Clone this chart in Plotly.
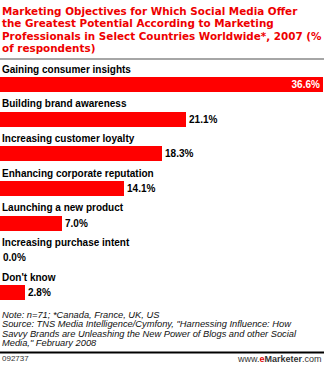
import plotly.graph_objects as go

categories = ["Gaining consumer insights", "Building brand awareness", "Increasing customer loyalty",
              "Enhancing corporate reputation", "Launching a new product", "Increasing purchase intent",
              "Don't know"]
values = [36.6, 21.1, 18.3, 14.1, 7.0, 0.0, 2.8]
labels = ["%.1f%%" % v for v in values]

title_lines = ["Marketing Objectives for Which Social Media Offer",
               "the Greatest Potential According to Marketing",
               "Professionals in Select Countries Worldwide*, 2007 (%",
               "of respondents)"]
footer_lines = ["Note: n=71; *Canada, France, UK, US",
                "Source: TNS Media Intelligence/Cymfony, \"Harnessing Influence: How",
                "Savvy Brands are Unleashing the New Power of Blogs and other Social",
                "Media,\" February 2008"]

W, H = 324, 365
T, B = 60, 55
PH = H - T - B
FONT = "Liberation Sans, Arial, sans-serif"
TFONT = "DejaVu Sans, Verdana, sans-serif"

def py(p):
    return (H - B - p) / PH

pos = list(range(len(categories)))
textpos = ["inside" if i == 0 else "outside" for i in pos]

fig = go.Figure(go.Bar(
    x=values, y=pos, orientation="h", width=0.433,
    marker=dict(color="#FF0000", line=dict(width=0)),
    text=labels, textposition=textpos, insidetextanchor="end",
    insidetextfont=dict(color="white", size=10, family=FONT),
    outsidetextfont=dict(color="black", size=10, family=FONT),
    texttemplate="<b>%{text}</b>", constraintext="none", cliponaxis=False,
    hoverinfo="skip",
))

ann = []
for i, c in enumerate(categories):
    ann.append(dict(x=0, xref="paper", y=i, yref="y", yshift=15.5, text="<b>%s</b>" % c,
                    showarrow=False, xanchor="left", yanchor="middle",
                    font=dict(size=10, color="black", family=FONT)))
for k, t in enumerate(title_lines):
    ann.append(dict(x=0, xref="paper", y=py(11 + 12.3 * k), yref="paper", text="<b>%s</b>" % t,
                    showarrow=False, xanchor="left", yanchor="middle",
                    font=dict(size=10.4, color="#EE0000", family=TFONT)))
for k, t in enumerate(footer_lines):
    ann.append(dict(x=0, xref="paper", y=py(314.5 + 9.6 * k), yref="paper", text="<i>%s</i>" % t,
                    showarrow=False, xanchor="left", yanchor="middle",
                    font=dict(size=9.3, color="#111111", family=FONT)))
ann.append(dict(x=0, xref="paper", y=py(358.5), yref="paper", text="092737",
                showarrow=False, xanchor="left", yanchor="middle",
                font=dict(size=8, color="#333333", family=FONT)))
ann.append(dict(x=1, xref="paper", xshift=1, y=py(358.5), yref="paper",
                text="www.<span style='color:#E00000'><b>e</b></span><b>Marketer</b>.com",
                showarrow=False, xanchor="right", yanchor="middle",
                font=dict(size=9, color="#333333", family=FONT)))

shapes = [
    dict(type="line", xref="paper", yref="paper", x0=0, x1=1.01, y0=py(59), y1=py(59),
         line=dict(color="#888888", width=1.5)),
    dict(type="line", xref="paper", yref="paper", x0=0, x1=1.01, y0=py(352.5), y1=py(352.5),
         line=dict(color="black", width=2)),
]

fig.update_layout(
    width=W, height=H, margin=dict(l=0, r=1, t=T, b=B),
    paper_bgcolor="white", plot_bgcolor="white", showlegend=False,
    xaxis=dict(range=[0, 36.6], visible=False, fixedrange=True),
    yaxis=dict(range=[6.504, -0.707], visible=False, fixedrange=True),
    annotations=ann, shapes=shapes, bargap=0,
)

fig.write_html("out.html", config={"displayModeBar": False})
